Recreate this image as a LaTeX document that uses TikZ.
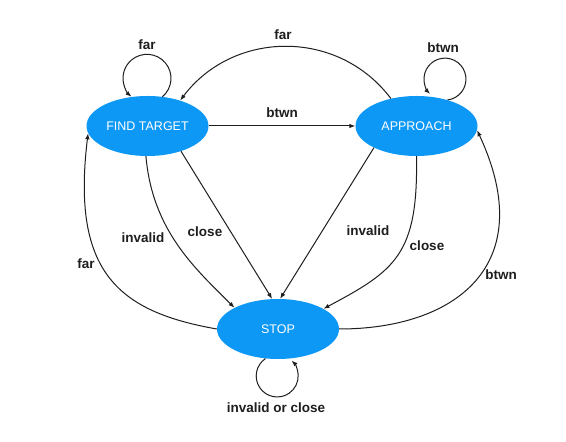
\documentclass[tikz,border=0pt]{standalone}
\usepackage{fontspec}
\setmainfont{Liberation Sans}
\usetikzlibrary{arrows.meta,shapes.geometric}
\definecolor{nodeblue}{RGB}{14,152,246}
\definecolor{ink}{RGB}{30,30,30}
\begin{document}
\begin{tikzpicture}[x=1pt,y=1pt,
  state/.style={ellipse, fill=nodeblue, minimum width=122pt, minimum height=60pt,
    inner sep=0pt, text=white, font=\fontsize{12.5}{15}\selectfont},
  trans/.style={draw=ink, line width=1pt, -{Latex[length=6pt,width=4.5pt]}},
  lbl/.style={text=ink, font=\bfseries\fontsize{13.5}{16}\selectfont, inner sep=0pt}]
\useasboundingbox (0,0) rectangle (566,442);
\fill[white] (0,0) rectangle (566,442);
% states
\node[state] (ft) at (147.5,316) {FIND TARGET};
\node[state] (ap) at (416.5,316) {APPROACH};
\node[state] (st) at (278,113) {STOP};
% self loops
\draw[trans] (ft.63) arc[start angle=-50, end angle=230, radius=24];
\draw[trans] (ap.40) arc[start angle=-83, end angle=225, radius=21];
\draw[trans] (st.247) arc[start angle=124, end angle=407, radius=21];
% transitions
\draw[trans] (ap.133) .. controls +(127:88) and +(53:88) .. (ft.38);
\draw[trans] (ft) -- (ap);
\draw[trans] (ft.267) .. controls +(275:75) and +(135:55) .. (st.154);
\draw[trans] (ft.323) -- (st.101);
\draw[trans] (ap.207) -- (st.86);
\draw[trans] (ap.270) .. controls +(271:98) and +(28:82) .. (st.24);
\draw[trans] (st.east) .. controls +(0:115) and +(295:150) .. (ap.356);
\draw[trans] (st.west) .. controls +(170:100) and +(263:140) .. (ft.187);
% labels
\node[lbl] (l1) at (147,397) {far};
\node[lbl] (l2) at (283,407) {far};
\node[lbl] (l3) at (443,394) {btwn};
\node[lbl] (l4) at (282,329) {btwn};
\node[lbl] (l5) at (143,204) {invalid};
\node[lbl] (l6) at (205,210) {close};
\node[lbl] (l7) at (86,178) {far};
\node[lbl] (l8) at (368,211) {invalid};
\node[lbl] (l9) at (427,196) {close};
\node[lbl] (l10) at (501,167) {btwn};
\node[lbl] (l11) at (276,34) {invalid or close};
\end{tikzpicture}
\end{document}
